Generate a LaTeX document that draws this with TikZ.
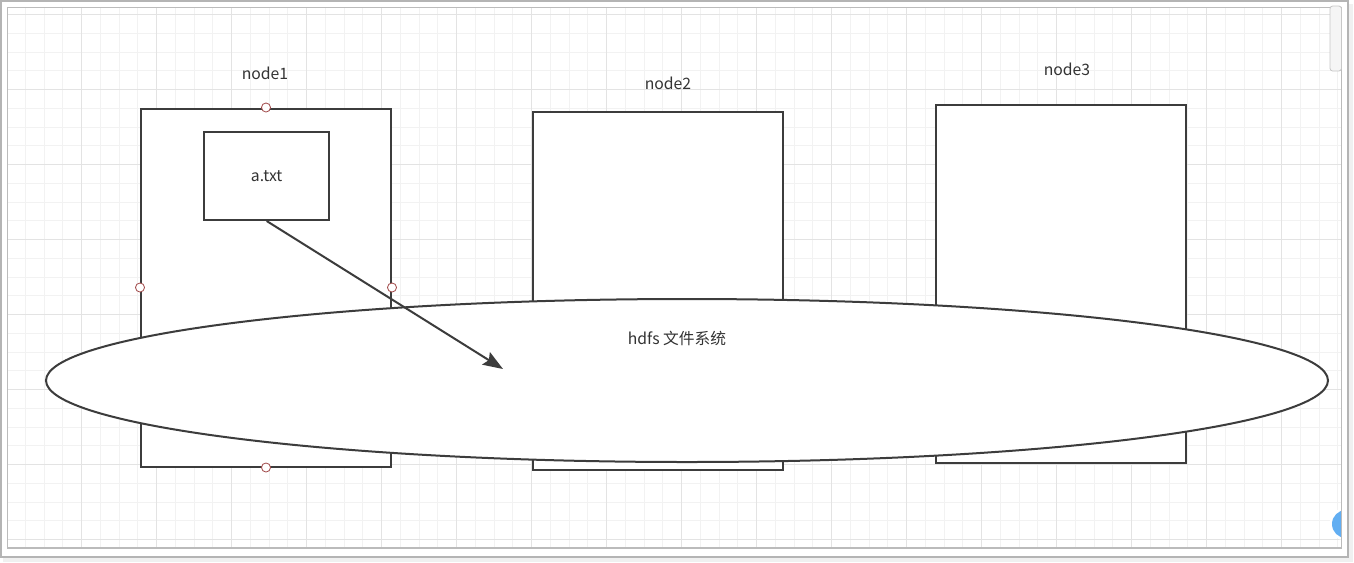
\documentclass[tikz,border=0pt]{standalone}
\usepackage{fontspec}
\setmainfont{Noto Sans CJK SC}
\usetikzlibrary{arrows.meta}
\definecolor{gridminor}{HTML}{F2F2F2}
\definecolor{gridmajor}{HTML}{E3E3E3}
\definecolor{linegray}{HTML}{3C3C3C}
\definecolor{textgray}{HTML}{333333}
\definecolor{framegray}{HTML}{B4B4B4}
\definecolor{handlered}{HTML}{A04848}
\definecolor{bluebtn}{HTML}{62AEF2}
\tikzset{
  box/.style={draw=linegray, line width=1.5pt, fill=white},
  handle/.style={circle, draw=handlered, fill=white, line width=0.6pt, minimum size=6.8pt, inner sep=0pt},
  lbl/.style={font=\fontsize{11.8pt}{13pt}\selectfont, text=textgray},
  conn/.style={draw=linegray, line width=1.5pt, -{Stealth[length=15pt,width=11pt,inset=2.5pt]}},
}
\begin{document}
\begin{tikzpicture}[x=0.75pt,y=-0.75pt]
\useasboundingbox (0,0) rectangle (1354,562);
\fill[white] (0,0) rectangle (1354,562);
% shadow and outer frame
\fill[black!12] (4,5) rectangle (1352,561);
\fill[black!6] (3,4) rectangle (1353,562);
\draw[framegray, line width=0.9pt, fill=white] (1,1) rectangle (1348,557);
% canvas with grid
\begin{scope}
\clip (7.5,7.5) rectangle (1341.5,548);
\foreach \i in {0,...,71} {
  \pgfmathsetmacro\xx{6.7+18.75*\i}
  \draw[gridminor, line width=0.75pt] (\xx,0) -- (\xx,560);
}
\foreach \i in {-1,...,30} {
  \pgfmathsetmacro\yy{14.5+18.75*\i}
  \draw[gridminor, line width=0.75pt] (0,\yy) -- (1354,\yy);
}
\foreach \i in {0,...,18} {
  \pgfmathsetmacro\xx{6.7+75*\i}
  \draw[gridmajor, line width=0.75pt] (\xx,0) -- (\xx,560);
}
\foreach \i in {0,...,7} {
  \pgfmathsetmacro\yy{14.5+75*\i}
  \draw[gridmajor, line width=0.75pt] (0,\yy) -- (1354,\yy);
}
% blue round button, clipped by the canvas edge
\fill[white] (1346,524) circle (16.5);
\fill[bluebtn] (1346,524) circle (14);
\end{scope}
\draw[framegray!90, line width=0.9pt] (7.5,7.5) rectangle (1341.5,548);
% scrollbar thumb
\draw[black!22, fill=black!4, line width=0.6pt, rounded corners=2pt] (1330,6) rectangle (1341.5,71);

% nodes
\node[box, minimum width=187.5pt, minimum height=268.5pt, anchor=north west] (n1) at (140,107.5) {};
\node[box, minimum width=187.5pt, minimum height=268.5pt, anchor=north west] (n2) at (532,111) {};
\node[box, minimum width=187.5pt, minimum height=268.5pt, anchor=north west] (n3) at (935,104) {};
\node[lbl] (l1) at (265,73) {node1};
\node[lbl] (l2) at (668,83) {node2};
\node[lbl] (l3) at (1067,69) {node3};
\node[box, lbl, minimum width=94pt, minimum height=66pt, anchor=north west] (f) at (203,131) {a.txt};

% handles of the selected node1
\node[handle] (h1) at (n1.north) {};
\node[handle] (h2) at (n1.west) {};
\node[handle] (h3) at (n1.east) {};
\node[handle] (h4) at (n1.south) {};

% hdfs ellipse
\draw[linegray, line width=1.5pt, fill=white] (687,380.5) ellipse [x radius=641, y radius=81.5];
\node[lbl] (hd) at (677,338) {hdfs 文件系统};
\coordinate (tip) at (503,369);
\draw[conn] (f.south) -- (tip);
\end{tikzpicture}
\end{document}
